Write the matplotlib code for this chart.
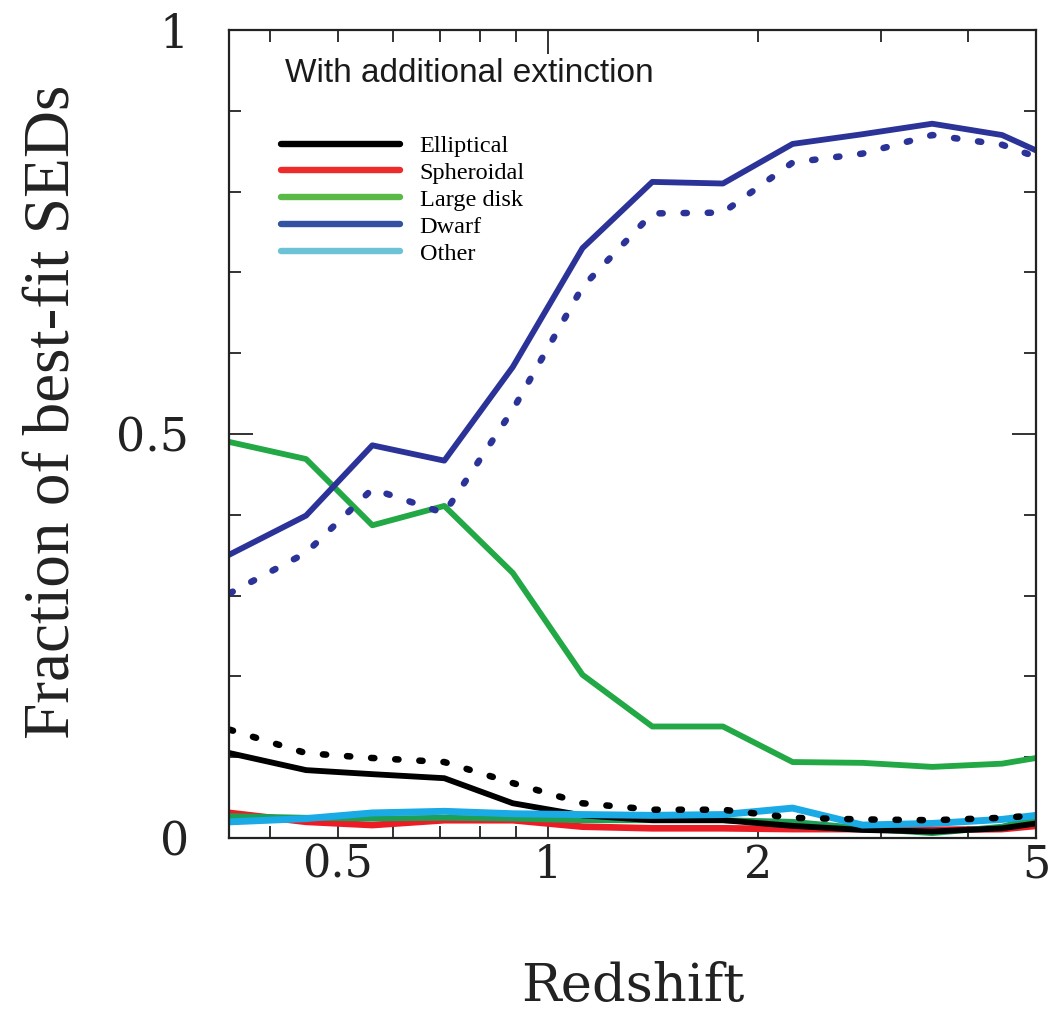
import matplotlib
matplotlib.use("Agg")
import matplotlib.pyplot as plt
from matplotlib.lines import Line2D
from matplotlib.ticker import FixedLocator, FixedFormatter, NullFormatter

# redshift bin centres
redshift = [0.35, 0.45, 0.56, 0.71, 0.89, 1.12, 1.41, 1.78, 2.24, 2.82, 3.55, 4.47, 5.0]

# fraction of best-fit SEDs per template (solid = with additional extinction)
elliptical = [0.105, 0.084, 0.079, 0.074, 0.043, 0.028, 0.022, 0.022, 0.015, 0.010, 0.008, 0.012, 0.018]
spheroidal = [0.031, 0.020, 0.016, 0.022, 0.022, 0.014, 0.012, 0.012, 0.011, 0.011, 0.010, 0.011, 0.015]
large_disk = [0.490, 0.469, 0.387, 0.411, 0.328, 0.202, 0.138, 0.138, 0.094, 0.093, 0.088, 0.092, 0.099]
dwarf = [0.351, 0.399, 0.486, 0.467, 0.583, 0.730, 0.812, 0.810, 0.859, 0.871, 0.884, 0.870, 0.851]
other = [0.020, 0.024, 0.031, 0.033, 0.030, 0.029, 0.028, 0.029, 0.037, 0.016, 0.018, 0.023, 0.028]
disk_low = [0.027, 0.025, 0.024, 0.025, 0.024, 0.022, 0.022, 0.022, 0.020, 0.012, 0.006, 0.014, 0.025]

# dotted = without additional extinction
elliptical_noext = [0.134, 0.105, 0.099, 0.094, 0.068, 0.043, 0.035, 0.035, 0.025, 0.023, 0.022, 0.025, 0.028]
dwarf_noext = [0.303, 0.353, 0.432, 0.402, 0.530, 0.682, 0.773, 0.774, 0.836, 0.847, 0.870, 0.858, 0.843]

legend_names = ["Elliptical", "Spheroidal", "Large disk", "Dwarf", "Other"]
legend_colors = ["#000000", "#ee2a2a", "#5ab947", "#3451a3", "#6cc3d5"]

c_red = "#ec1c24"
c_green = "#22a845"
c_blue = "#2b3399"
c_cyan = "#1aaae6"

lw = 4.2
dots = (0, (0.5, 3.2))

fig = plt.figure(figsize=(10.5, 10.1), dpi=100)
ax = fig.add_axes([0.2181, 0.1703, 0.7686, 0.8])

ax.plot(redshift, large_disk, color=c_green, lw=lw, solid_joinstyle="round")
ax.plot(redshift, dwarf, color=c_blue, lw=lw, solid_joinstyle="round")
ax.plot(redshift, dwarf_noext, color=c_blue, lw=lw + 0.5, linestyle=dots, dash_capstyle="round")
ax.plot(redshift, spheroidal, color=c_red, lw=lw + 0.6, solid_joinstyle="round")
ax.plot(redshift, disk_low, color="#1d9f55", lw=lw, solid_joinstyle="round")
ax.plot(redshift, elliptical, color="black", lw=lw, solid_joinstyle="round")
ax.plot(redshift, other, color=c_cyan, lw=lw + 0.8, solid_joinstyle="round")
ax.plot(redshift, elliptical_noext, color="black", lw=lw + 0.5, linestyle=dots, dash_capstyle="round")

ax.set_xscale("log")
ax.set_xlim(0.349, 5.0)
ax.set_ylim(0, 1)

ax.xaxis.set_major_locator(FixedLocator([1]))
ax.xaxis.set_major_formatter(FixedFormatter(["1"]))
minor_x = [0.4, 0.5, 0.6, 0.7, 0.8, 0.9, 2, 3, 4, 5]
ax.xaxis.set_minor_locator(FixedLocator(minor_x))
ax.xaxis.set_minor_formatter(FixedFormatter(["", "0.5", "", "", "", "", "2", "", "", "5"]))

ax.yaxis.set_major_locator(FixedLocator([0, 0.5, 1]))
ax.yaxis.set_major_formatter(FixedFormatter(["0", "0.5", "1"]))
ax.yaxis.set_minor_locator(FixedLocator([0.1, 0.2, 0.3, 0.4, 0.6, 0.7, 0.8, 0.9]))
ax.yaxis.set_minor_formatter(NullFormatter())

ax.tick_params(which="both", direction="in", top=True, right=True, width=1.3, color="#222222")
ax.tick_params(which="major", length=17)
ax.tick_params(which="minor", length=8.5)
ax.tick_params(axis="x", which="both", pad=4, labelsize=32)
ax.tick_params(axis="y", which="both", pad=29, labelsize=33)
for lab in ax.get_xticklabels(which="both") + ax.get_yticklabels(which="both"):
    lab.set_family("DejaVu Serif")
    lab.set_color("#222222")

for sp in ax.spines.values():
    sp.set_linewidth(1.6)
    sp.set_color("#222222")

ax.set_xlabel("Redshift", fontsize=38, family="DejaVu Serif", color="#222222")
ax.xaxis.set_label_coords(0.5, -0.152)
ax.set_ylabel("Fraction of best-fit SEDs", fontsize=47, family="Liberation Serif", color="#222222")
ax.yaxis.set_label_coords(-0.18, 0.527)

ax.text(0.0694, 0.936, "With additional extinction", transform=ax.transAxes,
        fontsize=24, family="Liberation Sans", color="#1a1a1a", va="baseline")

handles = [Line2D([], [], color=c, lw=4.6, solid_capstyle="round") for c in legend_colors]
ax.legend(handles, legend_names, loc="upper left", bbox_to_anchor=(0.0644, 0.870),
          frameon=False, borderpad=0, borderaxespad=0, handlelength=4.9,
          handletextpad=0.8, labelspacing=0.2,
          prop={"family": "Liberation Serif", "size": 17.5})

fig.savefig("out.png", dpi=100)
